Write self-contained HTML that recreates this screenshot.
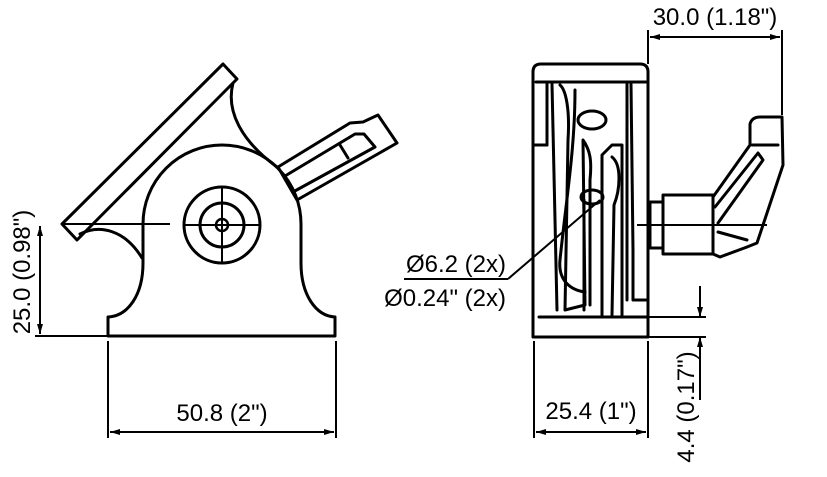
<!DOCTYPE html>
<html><head><meta charset="utf-8"><style>
html,body{margin:0;padding:0;background:#fff;}
svg{display:block;}
text{font-family:"Liberation Sans",sans-serif;font-size:24px;fill:#000;}
</style></head><body>
<svg width="827" height="477" viewBox="0 0 827 477" xmlns="http://www.w3.org/2000/svg">
<defs>
<marker id="a" viewBox="0 0 10 6" refX="10" refY="3" markerWidth="11" markerHeight="6" markerUnits="userSpaceOnUse" orient="auto-start-reverse"><path d="M0,0 L10,3 L0,6 z" fill="#000"/></marker>
</defs>
<g fill="none" stroke="#000" stroke-width="3" stroke-linejoin="round" stroke-linecap="round">
<polygon points="223,64 237,79 77,240 62,224"/>
<path d="M233,83 C226,110 240,140 277,167"/>
<path d="M80,234 C100,224 125,230 142,258"/>
<path d="M108,336 L108,317 C128,316 143,295 143,263 L143,224 A79,79 0 0 1 301,224 L301,263 C301,295 316,316 335,317 L335,336 Z"/>
<polygon points="278,167 350,123 363,122 378,115 397,143 297,200"/>
<polyline points="285,176 355,134 364,134 375,147 293,192"/>
<line x1="340" y1="145" x2="348" y2="158"/>
<circle cx="222" cy="225" r="38"/>
<circle cx="222" cy="225" r="22"/>
<circle cx="222" cy="225" r="6" stroke-width="2.5"/>
</g>
<g stroke="#000" stroke-width="2" fill="none">
<line x1="184" y1="225" x2="260" y2="225"/>
<line x1="222" y1="187" x2="222" y2="263"/>
<line x1="62" y1="224" x2="170" y2="224"/>
<line x1="35" y1="336" x2="108" y2="336"/>
<line x1="40" y1="226" x2="40" y2="334" marker-start="url(#a)" marker-end="url(#a)"/>
<line x1="108" y1="341" x2="108" y2="438"/>
<line x1="336" y1="341" x2="336" y2="438"/>
<line x1="110" y1="432" x2="334" y2="432" marker-start="url(#a)" marker-end="url(#a)"/>
</g>
<text x="222" y="421" text-anchor="middle">50.8 (2")</text>
<text transform="translate(30,272) rotate(-90)" text-anchor="middle">25.0 (0.98")</text>

<g fill="none" stroke="#000" stroke-width="3" stroke-linejoin="round" stroke-linecap="round">
<path d="M533,337 L533,72 Q533,64 541,64 L640,64 Q648,64 648,72 L648,337 Z"/>
<line x1="536" y1="82" x2="646" y2="82"/>
<line x1="539" y1="317" x2="648" y2="317"/>
<line x1="533" y1="145" x2="547" y2="145"/>
<line x1="547" y1="82" x2="547" y2="145"/>
<line x1="552" y1="84" x2="557" y2="310"/>
<path d="M560,85 C566,90 570,110 568,140 L565,310 L585,305 L583,140 C590,150 592,160 590,180 L590,305"/>
<path d="M575,90 C575,150 566,200 560,260 C558,280 570,290 585,292"/>
<ellipse cx="592" cy="120" rx="14" ry="9"/>
<ellipse cx="592" cy="197" rx="11" ry="7"/>
<path d="M584,200 L584,310"/>
<path d="M602,315 L602,155 L612,145 L622,145 L622,315"/>
<path d="M612,157 C622,165 620,190 614,205 L612,315"/>
<line x1="627" y1="84" x2="627" y2="300"/>
<path d="M631,84 L633,250 L633,300 L646,300"/>
<polygon points="663,195 713,195 713,254 663,254"/>
<polygon points="650,202 663,202 663,248 650,248"/>
<path d="M713,197 L750,145 L750,124 Q752,117 760,117 L782,117 L783,165 L757,243 L747,247 L720,257 L713,254"/>
<line x1="752" y1="145" x2="778" y2="145"/>
<polyline points="715,207 758,153 763,160 718,223"/>
<line x1="718" y1="232" x2="747" y2="240"/>
</g>
<g stroke="#000" stroke-width="2" fill="none">
<line x1="637" y1="225" x2="767" y2="225"/>
<line x1="648" y1="30" x2="648" y2="64"/>
<line x1="782" y1="30" x2="782" y2="115"/>
<line x1="650" y1="37" x2="780" y2="37" marker-start="url(#a)" marker-end="url(#a)"/>
<line x1="404" y1="279" x2="508" y2="279"/>
<line x1="508" y1="279" x2="600" y2="200"/>
<line x1="534" y1="341" x2="534" y2="438"/>
<line x1="648" y1="341" x2="648" y2="438"/>
<line x1="536" y1="432" x2="646" y2="432" marker-start="url(#a)" marker-end="url(#a)"/>
<line x1="648" y1="317" x2="706" y2="317"/>
<line x1="648" y1="337" x2="706" y2="337"/>
<line x1="700" y1="286" x2="700" y2="317" marker-end="url(#a)"/>
<line x1="700" y1="400" x2="700" y2="337" marker-end="url(#a)"/>
</g>
<text x="715" y="25" text-anchor="middle">30.0 (1.18")</text>
<text x="506" y="272" text-anchor="end">Ø6.2 (2x)</text>
<text x="506" y="306" text-anchor="end">Ø0.24" (2x)</text>
<text x="591" y="419" text-anchor="middle">25.4 (1")</text>
<text transform="translate(694,407) rotate(-90)" text-anchor="middle">4.4 (0.17")</text>
</svg>
</body></html>
